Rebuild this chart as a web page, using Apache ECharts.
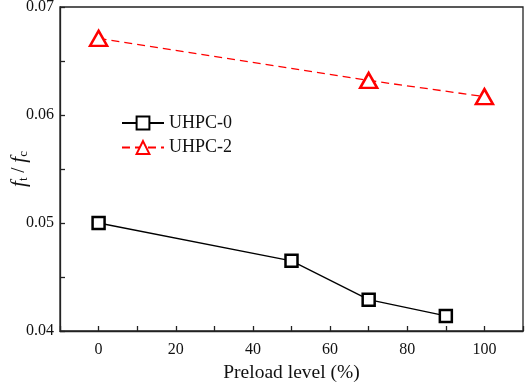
<!DOCTYPE html>
<html>
<head>
<meta charset="utf-8">
<script src="https://cdn.jsdelivr.net/npm/echarts@6/dist/echarts.min.js"></script>
<style>
html,body{margin:0;padding:0;background:#fff;}
#chart{width:526px;height:384px;}
</style>
</head>
<body>
<div id="chart"></div>
<script>
var preload0 = [0, 50, 70, 90];
var uhpc0 = [0.0500, 0.0465, 0.0429, 0.0414];
var preload2 = [0, 70, 100];
var uhpc2 = [0.0671, 0.0632, 0.0617];
var seriesNames = ['UHPC-0', 'UHPC-2'];

function pairs(xs, ys) {
	var out = [];
	for (var i = 0; i < xs.length; i++) out.push([xs[i], ys[i]]);
	return out;
}

var chart = echarts.init(document.getElementById('chart'));
var font = '"Liberation Serif", "Times New Roman", serif';
var axisColor = '#222';

var option = {
	animation: false,
	textStyle: { fontFamily: font },
	grid: {
		left: 60, right: 3, top: 7, bottom: 53,
		containLabel: false,
		outerBoundsMode: 'none',
		show: true,
		borderColor: axisColor,
		borderWidth: 1.3,
		backgroundColor: 'transparent'
	},
	legend: {
		data: seriesNames,
		orient: 'vertical',
		left: 121,
		top: 114,
		padding: 0,
		itemWidth: 42,
		itemHeight: 16,
		itemGap: 6.5,
		textStyle: { fontFamily: font, fontSize: 18, color: '#111', padding: [0, 0, 0, 0] }
	},
	xAxis: {
		type: 'value',
		min: -10, max: 110,
		interval: 10,
		axisLine: { onZero: false, lineStyle: { color: axisColor, width: 1.3 } },
		axisTick: { inside: true, length: 5, lineStyle: { color: axisColor, width: 1.3 } },
		splitLine: { show: false },
		axisLabel: {
			fontFamily: font, fontSize: 16, color: '#111', margin: 11,
			formatter: function (v) { return (v % 20 === 0 && v >= 0 && v <= 100) ? v : ''; }
		},
		name: 'Preload level (%)',
		nameLocation: 'middle',
		nameGap: 32,
		nameMoveOverlap: false,
		nameTextStyle: { fontFamily: font, fontSize: 19.5, color: '#111' }
	},
	yAxis: {
		type: 'value',
		min: 0.04, max: 0.07,
		interval: 0.005,
		axisLine: { show: true, onZero: false, lineStyle: { color: axisColor, width: 1.3 } },
		axisTick: { inside: true, length: 5, lineStyle: { color: axisColor, width: 1.3 } },
		splitLine: { show: false },
		axisLabel: {
			fontFamily: font, fontSize: 16, color: '#111', margin: 6,
			formatter: function (v) {
				var r = Math.round(v * 1000);
				return (r % 10 === 0) ? (r / 1000).toFixed(2) : '';
			}
		},
		name: '{i|f}{s|t}{n| / }{i|f}{s|c}',
		nameLocation: 'middle',
		nameGap: 30,
		nameMoveOverlap: false,
		nameTextStyle: {
			rich: {
				i: { fontFamily: font, fontStyle: 'italic', fontSize: 21, color: '#111' },
				s: { fontFamily: font, fontSize: 13, color: '#111', padding: [9, 0, 0, 0] },
				n: { fontFamily: font, fontSize: 19, color: '#111' }
			}
		}
	},
	series: [
		{
			name: seriesNames[0],
			type: 'line',
			data: pairs(preload0, uhpc0),
			symbol: 'rect',
			symbolSize: 12,
			lineStyle: { color: '#000', width: 1.3 },
			itemStyle: { color: '#fff', borderColor: '#000', borderWidth: 2.5 }
		},
		{
			name: seriesNames[1],
			type: 'line',
			data: pairs(preload2, uhpc2),
			symbol: 'triangle',
			symbolSize: [17, 15],
			lineStyle: { color: '#ff0000', width: 1.3, type: [8, 5] },
			itemStyle: { color: '#fff', borderColor: '#ff0000', borderWidth: 2.5 }
		}
	]
};
chart.setOption(option);
</script>
</body>
</html>
